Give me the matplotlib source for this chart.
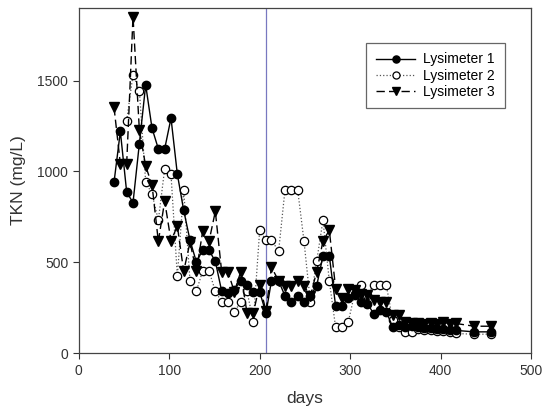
import numpy as np
import matplotlib.pyplot as plt

plt.rcParams['font.family'] = ['Liberation Sans', 'DejaVu Sans']

# -------------------------------------------------
# DATA
# -------------------------------------------------
days1 = [39, 46, 53, 60, 67, 74, 81, 88, 95, 102, 109, 116, 123, 130, 137, 144,
         151, 158, 165, 172, 179, 186, 193, 200, 207, 213, 221, 228, 235, 242,
         249, 256, 263, 270, 277, 284, 291, 298, 305, 312, 319, 326, 333, 340,
         347, 354, 361, 368, 375, 382, 389, 396, 403, 410, 417, 437, 456]
tkn1 = [940, 1220, 886, 828, 1152, 1476, 1238, 1124, 1124, 1293, 985, 786, 621,
        502, 566, 566, 505, 341, 330, 350, 397, 374, 337, 337, 220, 397, 397,
        315, 282, 315, 282, 315, 370, 535, 535, 258, 258, 305, 319, 282, 272,
        218, 236, 227, 145, 154, 145, 148, 145, 140, 138, 135, 130, 128, 125,
        117, 117]

days2 = [53, 60, 67, 74, 81, 88, 95, 102, 109, 116, 123, 130, 137, 144, 151,
         158, 165, 172, 179, 186, 193, 200, 207, 213, 221, 228, 235, 242, 249,
         256, 263, 270, 277, 284, 291, 298, 305, 312, 319, 326, 333, 340, 347,
         354, 361, 368, 375, 382, 389, 396, 403, 410, 417, 437, 456]
tkn2 = [1280, 1533, 1445, 941, 877, 731, 1014, 983, 423, 899, 397, 341, 452,
        452, 341, 282, 282, 227, 282, 341, 172, 676, 621, 621, 562, 899, 899,
        899, 617, 282, 505, 731, 397, 141, 141, 172, 328, 374, 319, 374, 374,
        374, 181, 145, 117, 117, 135, 128, 125, 122, 120, 115, 108, 104, 104]

days3 = [39, 46, 53, 60, 67, 74, 81, 88, 95, 102, 109, 116, 123, 130, 137, 144,
         151, 158, 165, 172, 179, 186, 193, 200, 207, 213, 221, 228, 235, 242,
         249, 256, 263, 270, 277, 284, 291, 298, 305, 312, 319, 326, 333, 340,
         347, 354, 361, 368, 375, 382, 389, 396, 403, 410, 417, 437, 456]
tkn3 = [1353, 1042, 1042, 1852, 1229, 1029, 926, 615, 837, 617, 700, 450, 610,
        450, 670, 615, 780, 447, 447, 337, 447, 221, 221, 377, 230, 474, 397,
        370, 370, 397, 370, 315, 447, 617, 676, 355, 304, 355, 346, 328, 320,
        291, 282, 282, 209, 209, 172, 165, 165, 160, 165, 160, 172, 160, 163,
        148, 148]

event_day = 207

# -------------------------------------------------
# PLOT
# -------------------------------------------------
fig = plt.figure(figsize=(5.43, 4.13), dpi=100)
ax = fig.add_axes([0.145, 0.145, 0.833, 0.836])

ax.axvline(event_day, color='#7878c0', linewidth=0.9, zorder=1)

ax.plot(days1, tkn1, color='black', linestyle='-', linewidth=1.0,
        marker='o', markersize=6, markerfacecolor='black',
        markeredgecolor='black', label='Lysimeter 1', zorder=3)
ax.plot(days2, tkn2, color='#555555', linestyle=':', linewidth=0.9,
        marker='o', markersize=6, markerfacecolor='white',
        markeredgecolor='black', markeredgewidth=0.9,
        label='Lysimeter 2', zorder=2)
ax.plot(days3, tkn3, color='black', linestyle=(0, (6, 3)), linewidth=1.0,
        marker='v', markersize=6.5, markerfacecolor='black',
        markeredgecolor='black', label='Lysimeter 3', zorder=3)

ax.set_xlim(0, 500)
ax.set_ylim(0, 1900)
ax.set_xticks([0, 100, 200, 300, 400, 500])
ax.set_yticks([0, 500, 1000, 1500])
ax.tick_params(direction='out', length=4, labelsize=10, colors='#333333',
               labelcolor='#333333', top=False, right=False)
for s in ax.spines.values():
    s.set_color('#444444')
    s.set_linewidth(0.9)

ax.set_xlabel('days', fontsize=12.5, color='#333333', labelpad=10)
ax.set_ylabel('TKN (mg/L)', fontsize=12.5, color='#333333', labelpad=8)

leg = ax.legend(loc='upper right', bbox_to_anchor=(0.942, 0.899),
                borderaxespad=0, fontsize=10, fancybox=False, framealpha=1,
                edgecolor='#666666', handlelength=2.8, markerscale=0.85,
                borderpad=0.7, labelspacing=0.15, handletextpad=0.6)
leg.get_frame().set_linewidth(0.9)

fig.savefig('out.png', dpi=100)
